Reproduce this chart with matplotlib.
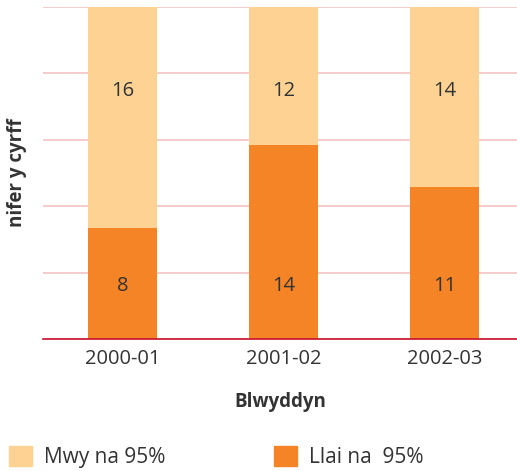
import numpy as np
import matplotlib
matplotlib.use('Agg')
from matplotlib import pyplot as plt
from matplotlib.patches import Patch

years = ['2000-01', '2001-02', '2002-03']
llai = [8, 14, 11]    # Llai na 95%
mwy = [16, 12, 14]    # Mwy na 95%

col_llai = '#F58426'
col_mwy = '#FDD293'
txt = '#333333'

plt.rcParams['font.family'] = ['Open Sans', 'DejaVu Sans']

fig = plt.figure(figsize=(5.17, 4.71), dpi=100)
ax = fig.add_axes([0.083, 0.280, 0.917, 0.705])

x = np.arange(len(years))
w = 0.43
ax.bar(x, llai, w, color=col_llai, zorder=2)
ax.bar(x, mwy, w, bottom=llai, color=col_mwy, zorder=2)

# labels sit on two fixed rows, like the original
tr = ax.get_xaxis_transform()
for i in range(len(years)):
    ax.text(x[i], 0.16, str(llai[i]), transform=tr, ha='center', va='center',
            fontsize=14.5, color=txt, zorder=3)
    ax.text(x[i], 0.747, str(mwy[i]), transform=tr, ha='center', va='center',
            fontsize=14.5, color=txt, zorder=3)

ax.set_xlim(-0.494, 2.45)
ax.set_ylim(0, 24)
ax.set_yticks(np.linspace(0, 24, 6))
ax.set_yticklabels([])
ax.tick_params(axis='y', length=0)
ax.grid(axis='y', color='#F4C4C4', linewidth=1.2, zorder=1)
for s in ['top', 'right', 'left']:
    ax.spines[s].set_visible(False)
ax.spines['bottom'].set_color('#C8102E')
ax.spines['bottom'].set_linewidth(1.2)
ax.spines['bottom'].set_zorder(4)

ax.set_xticks(x)
ax.set_xticklabels(years, fontsize=14.5, color=txt)
ax.tick_params(axis='x', length=0, pad=7)

ax.set_xlabel('Blwyddyn', fontsize=13.5, fontweight='bold', color=txt, labelpad=17)
ax.set_ylabel('nifer y cyrff', fontsize=13.5, fontweight='bold', color=txt, labelpad=8)

handles = [Patch(color=col_mwy, label='Mwy na 95%'),
           Patch(color=col_llai, label='Llai na  95%')]
fig.legend(handles=handles, loc='lower left', bbox_to_anchor=(0.017, 0.006), ncol=2,
           frameon=False, fontsize=15, handlelength=1.1, handleheight=1.1,
           handletextpad=0.6, columnspacing=5.2, labelcolor=txt,
           borderpad=0, borderaxespad=0)

fig.savefig('out.png', dpi=100)
